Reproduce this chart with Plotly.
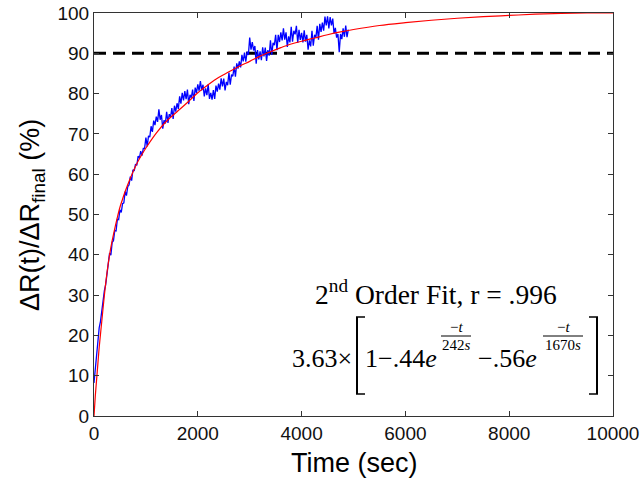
import plotly.graph_objects as go

# ---------------- data ----------------
fit_t = [0, 10, 25, 50, 75, 100, 150, 200, 250, 300, 350, 400, 450, 500, 550, 600,
         700, 800, 900, 1000, 1200, 1400, 1600, 1800, 2000, 2200, 2400, 2600, 2800,
         3000, 3200, 3400, 3600, 3800, 4000, 4250, 4500, 4750, 5000, 5500, 6000,
         6500, 7000, 7500, 8000, 8500, 9000, 9500, 10000]
fit_v = [0, 2, 5, 9, 13, 17, 23.5, 30, 35.5, 40, 43.5, 46.5, 49.3, 51.8, 53.8, 55.7,
         59, 62, 64.4, 66.5, 70.2, 73.2, 75.5, 77.8, 80.2, 82.2, 84, 85.4, 86.8,
         88, 89.3, 90.4, 91.4, 92.3, 93, 93.8, 94.6, 95.3, 95.9, 96.9, 97.6,
         98.2, 98.7, 99.1, 99.4, 99.7, 99.9, 100, 100]

data_t = [i * 25 for i in range(197)]
data_v = [8.2, 11.7, 16.0, 18.8, 21.9, 23.5, 26.6, 28.2, 31.1, 32.6, 35.2, 37.4,
          40.4, 39.9, 43.1, 43.5, 46.0, 45.9, 48.8, 48.7, 51.2, 50.5, 52.7, 52.9,
          55.7, 54.7, 56.9, 57.3, 59.4, 58.4, 61.1, 60.8, 62.5, 62.2, 64.5, 64.0,
          65.7, 64.6, 66.4, 66.4, 69.1, 66.9, 69.5, 69.2, 71.9, 70.5, 73.3, 72.2,
          74.3, 73.0, 76.1, 73.5, 74.7, 71.3, 73.4, 72.6, 75.5, 72.7, 74.9, 74.2,
          76.4, 73.7, 77.0, 75.5, 77.6, 76.2, 79.3, 77.5, 80.2, 78.3, 80.6, 78.6,
          81.0, 77.4, 79.7, 79.0, 81.0, 78.2, 81.5, 80.2, 82.3, 80.7, 83.1, 80.8,
          82.2, 79.3, 81.3, 79.6, 82.3, 78.7, 80.2, 78.5, 80.9, 78.7, 82.0, 80.5,
          82.5, 81.0, 83.8, 81.8, 83.7, 80.8, 82.9, 82.1, 85.2, 82.2, 84.7, 84.3,
          86.7, 84.2, 87.5, 86.2, 88.0, 86.5, 89.6, 88.0, 90.2, 87.9, 90.4, 89.6,
          93.9, 90.9, 92.8, 90.7, 91.8, 87.4, 90.8, 88.5, 90.5, 88.3, 91.5, 89.2,
          91.4, 88.1, 90.8, 89.4, 93.2, 89.6, 92.6, 92.0, 94.6, 90.8, 94.6, 92.8,
          95.2, 93.2, 96.2, 93.4, 95.2, 91.6, 94.2, 92.7, 96.6, 92.9, 95.6, 94.7,
          96.8, 92.6, 95.8, 93.3, 95.1, 92.7, 95.7, 92.9, 94.6, 90.9, 93.2, 91.7,
          95.6, 91.9, 94.6, 93.9, 96.8, 93.4, 97.3, 95.3, 97.6, 95.6, 99.1, 96.9,
          99.2, 96.2, 99.0, 96.9, 98.6, 94.9, 96.3, 93.9, 94.8, 90.3, 94.8, 93.5,
          96.2, 94.1, 96.9, 94.0, 95.9]

threshold = 90
x_range = [0, 10000]
y_range = [0, 100]
x_ticks = [0, 2000, 4000, 6000, 8000, 10000]
y_ticks = [0, 10, 20, 30, 40, 50, 60, 70, 80, 90, 100]

# ---------------- layout geometry ----------------
W, H = 641, 479
L, R, T, B = 94, 28, 13, 63
PW, PH = W - L - R, H - T - B


def px(x):
    return (x - L) / PW


def py(y):
    return (H - B - y) / PH


fig = go.Figure()
fig.add_trace(go.Scatter(x=x_range, y=[threshold, threshold], mode="lines",
                         line=dict(color="black", width=3, dash="12px,7px"),
                         hoverinfo="skip", showlegend=False))
fig.add_trace(go.Scatter(x=data_t, y=data_v, mode="lines",
                         line=dict(color="#0000ff", width=1.3),
                         showlegend=False))
fig.add_trace(go.Scatter(x=fit_t, y=fit_v, mode="lines",
                         line=dict(color="#ff0000", width=1.2, shape="spline"),
                         showlegend=False))

axis_common = dict(showline=True, linecolor="#333333", linewidth=1, mirror="ticks",
                   ticks="inside", ticklen=5, tickcolor="#333333", showgrid=False,
                   zeroline=False, automargin=False,
                   tickfont=dict(family="Liberation Sans, Arial", size=19, color="#111111"))
fig.update_xaxes(range=x_range, tickvals=x_ticks, ticktext=[str(v) for v in x_ticks],
                 **axis_common)
fig.update_yaxes(range=y_range, tickvals=y_ticks, ticktext=[str(v) for v in y_ticks],
                 **axis_common)

serif = "Liberation Serif, Times New Roman"
sans = "Liberation Sans, Arial"
ann = []


def add_text(text, x, y, size, family=serif, angle=0, xanchor="center"):
    ann.append(dict(text=text, x=px(x), y=py(y), xref="paper", yref="paper",
                    showarrow=False, xanchor=xanchor, yanchor="middle",
                    textangle=angle, font=dict(family=family, size=size, color="black")))


add_text("Time (sec)", 354, 463, 27, family=sans)
add_text("ΔR(t)/ΔR<sub>final</sub> (%)", 32, 215, 27, family=sans, angle=-90)
add_text("2<sup>nd</sup> Order Fit, r = .996", 436, 292, 27.5)
add_text("3.63×", 322, 358, 26)
add_text("1−.44<i>e</i>", 401, 358, 26)
add_text("−<i>t</i>", 456, 327, 15)
add_text("242<i>s</i>", 456, 345, 15)
add_text("−.56<i>e</i>", 507, 358, 26)
add_text("−<i>t</i>", 563, 327, 15)
add_text("1670<i>s</i>", 563, 345, 15)

shapes = []


def seg(x0, y0, x1, y1, w=1.0):
    shapes.append(dict(type="line", xref="paper", yref="paper",
                       x0=px(x0), y0=py(y0), x1=px(x1), y1=py(y1),
                       line=dict(color="black", width=w)))


# fraction bars
seg(441, 336, 471, 336, 1)
seg(543, 336, 583, 336, 1)
# brackets
seg(357, 317, 357, 394, 2)
seg(356, 317, 365, 317, 1.5)
seg(356, 394, 365, 394, 1.5)
seg(597, 317, 597, 394, 2)
seg(589, 317, 598, 317, 1.5)
seg(589, 394, 598, 394, 1.5)

fig.update_layout(width=W, height=H, margin=dict(l=L, r=R, t=T, b=B, pad=0),
                  paper_bgcolor="white", plot_bgcolor="white",
                  annotations=ann, shapes=shapes)

fig.write_html("out.html")
